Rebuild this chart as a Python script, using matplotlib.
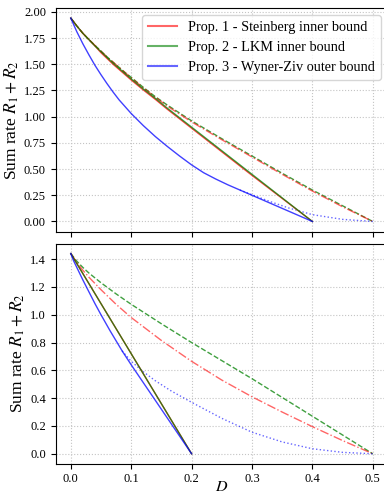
import numpy as np
import matplotlib
matplotlib.use('Agg')
import matplotlib.pyplot as plt

plt.rcParams['font.family'] = ['Liberation Serif', 'DejaVu Serif']
plt.rcParams['mathtext.fontset'] = 'stix'
plt.rcParams['font.size'] = 9

# ---- top panel values ----
top_d_inner = [0, 0.01, 0.02, 0.03, 0.04, 0.05, 0.06, 0.07, 0.08, 0.09, 0.1,
               0.12, 0.14, 0.16, 0.18, 0.2, 0.25, 0.3, 0.35, 0.4]
top_steinberg_solid = [1.94, 1.865, 1.795, 1.735, 1.675, 1.61, 1.555, 1.50, 1.45,
                       1.40, 1.35, 1.255, 1.165, 1.07, 0.98, 0.89, 0.665, 0.44, 0.22, 0.0]
top_lkm_solid = [1.94, 1.865, 1.795, 1.735, 1.675, 1.62, 1.565, 1.51, 1.46,
                 1.41, 1.36, 1.265, 1.175, 1.08, 0.99, 0.90, 0.675, 0.45, 0.225, 0.0]
top_d_full = [0, 0.01, 0.02, 0.03, 0.04, 0.05, 0.06, 0.07, 0.08, 0.09, 0.1,
              0.12, 0.14, 0.16, 0.18, 0.2, 0.25, 0.3, 0.35, 0.4, 0.45, 0.5]
top_steinberg_full = [1.94, 1.865, 1.795, 1.735, 1.68, 1.625, 1.57, 1.52, 1.47,
                      1.42, 1.37, 1.275, 1.185, 1.10, 1.025, 0.95, 0.78, 0.615,
                      0.45, 0.29, 0.14, 0.0]
top_lkm_full = [1.94, 1.865, 1.795, 1.735, 1.68, 1.625, 1.57, 1.52, 1.47,
                1.42, 1.375, 1.28, 1.19, 1.11, 1.035, 0.96, 0.79, 0.625,
                0.46, 0.30, 0.15, 0.0]
top_d_wz = [0, 0.01, 0.02, 0.03, 0.04, 0.05, 0.06, 0.07, 0.08, 0.09, 0.1,
            0.12, 0.14, 0.16, 0.18, 0.2, 0.22, 0.24, 0.26, 0.28, 0.3, 0.35, 0.4]
top_wz_solid = [1.94, 1.81, 1.695, 1.59, 1.49, 1.40, 1.315, 1.235, 1.16, 1.095,
                1.03, 0.915, 0.81, 0.715, 0.625, 0.54, 0.465, 0.405, 0.35, 0.30,
                0.25, 0.125, 0.0]
top_d_wz_dot = [0.28, 0.3, 0.33, 0.36, 0.4, 0.45, 0.5]
top_wz_dot = [0.30, 0.255, 0.19, 0.13, 0.065, 0.02, 0.0]

# ---- bottom panel values ----
bot_d_inner = [0, 0.05, 0.1, 0.15, 0.2]
bot_steinberg_solid = [1.44, 1.08, 0.72, 0.36, 0.0]
bot_lkm_solid = [1.44, 1.08, 0.72, 0.36, 0.0]
bot_d_full = [0, 0.01, 0.02, 0.03, 0.05, 0.075, 0.1, 0.15, 0.2, 0.25, 0.3,
              0.35, 0.4, 0.45, 0.5]
bot_steinberg_full = [1.44, 1.375, 1.32, 1.27, 1.18, 1.075, 0.98, 0.815, 0.665,
                      0.53, 0.41, 0.30, 0.195, 0.095, 0.0]
bot_lkm_full = [1.44, 1.385, 1.34, 1.30, 1.23, 1.15, 1.075, 0.935, 0.80, 0.67,
                0.54, 0.405, 0.27, 0.135, 0.0]
bot_d_wz = [0, 0.005, 0.01, 0.02, 0.03, 0.04, 0.05, 0.065, 0.085, 0.1, 0.15, 0.2]
bot_wz_solid = [1.44, 1.385, 1.34, 1.25, 1.165, 1.08, 1.0, 0.885, 0.74, 0.64,
                0.32, 0.0]
bot_d_wz_dot = [0.085, 0.1, 0.12, 0.14, 0.165, 0.2, 0.25, 0.3, 0.35, 0.4, 0.45, 0.5]
bot_wz_dot = [0.74, 0.665, 0.59, 0.525, 0.455, 0.37, 0.255, 0.155, 0.085, 0.036,
              0.01, 0.0]

labels = ['Prop. 1 - Steinberg inner bound',
          'Prop. 2 - LKM inner bound',
          'Prop. 3 - Wyner-Ziv outer bound']

fig = plt.figure(figsize=(3.84, 4.96), dpi=100)
ax1 = fig.add_axes([0.145, 0.533, 0.865, 0.451])
ax2 = fig.add_axes([0.145, 0.065, 0.865, 0.444], sharex=ax1)

lw = 1.0
al = 0.75

def draw(ax, d_in, st_s, lkm_s, d_full, st_f, lkm_f, d_wz, wz_s, d_wzd, wz_d):
    ax.plot(d_full, lkm_f, color='g', ls='--', lw=lw, alpha=al)
    ax.plot(d_full, st_f, color='r', ls='-.', lw=lw, alpha=0.6)
    ax.plot(d_wzd, wz_d, color='b', ls=':', lw=lw, alpha=0.6)
    ax.plot(d_in, st_s, color='r', lw=lw, alpha=al, label=labels[0])
    ax.plot(d_in, lkm_s, color='g', lw=lw, alpha=al, label=labels[1])
    ax.plot(d_wz, wz_s, color='b', lw=lw, alpha=al, label=labels[2])
    ax.grid(True, ls=':', color='#c4c4c4', lw=0.8)
    ax.set_ylabel('Sum rate $R_1 + R_2$', fontsize=12.5, labelpad=2)

draw(ax1, top_d_inner, top_steinberg_solid, top_lkm_solid, top_d_full,
     top_steinberg_full, top_lkm_full, top_d_wz, top_wz_solid,
     top_d_wz_dot, top_wz_dot)
draw(ax2, bot_d_inner, bot_steinberg_solid, bot_lkm_solid, bot_d_full,
     bot_steinberg_full, bot_lkm_full, bot_d_wz, bot_wz_solid,
     bot_d_wz_dot, bot_wz_dot)

ax1.set_yticks(np.arange(0, 2.01, 0.25))
ax1.set_ylim(-0.097, 2.037)
ax2.set_yticks(np.arange(0, 1.41, 0.2))
ax2.set_ylim(-0.072, 1.512)
ax1.set_xlim(-0.025, 0.525)
ax2.set_xticks([0, 0.1, 0.2, 0.3, 0.4, 0.5])
ax1.tick_params(labelbottom=False)
ax2.set_xlabel('$D$', fontsize=11.5, labelpad=-5)

leg = ax1.legend(loc='upper right', fontsize=10.3, framealpha=0.8)
for h in leg.get_lines():
    h.set_linewidth(1.5)
    h.set_alpha(0.6)

fig.savefig('out.png', dpi=100)
